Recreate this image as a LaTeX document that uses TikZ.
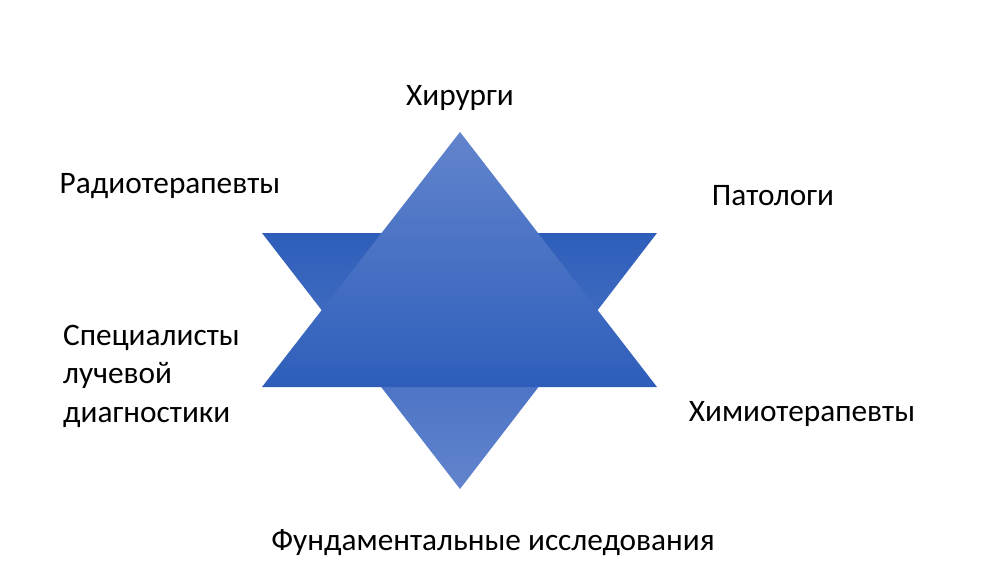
\documentclass[tikz,border=0pt]{standalone}
\usepackage{fontspec}
\setmainfont{Carlito}
\begin{document}
\begin{tikzpicture}[x=1pt,y=-1pt,
  lbl/.style={font=\fontsize{31.3}{38.5}\selectfont, inner sep=0pt, text=black}]
\useasboundingbox[fill=white] (0,0) rectangle (999,583);
% down triangle
\path[top color={rgb,255:red,46;green,94;blue,186}, bottom color={rgb,255:red,98;green,132;blue,205}]
  (262,233) -- (657,233) -- (460,489) -- cycle;
% up triangle
\path[top color={rgb,255:red,98;green,132;blue,205}, bottom color={rgb,255:red,46;green,94;blue,186}]
  (460,132) -- (657,387) -- (262,387) -- cycle;
\node[lbl] (sur) at (460,98) {Хирурги};
\node[lbl] (rad) at (170,186) {Радиотерапевты};
\node[lbl] (pat) at (773,196) {Патологи};
\node[lbl, anchor=west, align=left] (diag) at (63,376) {Специалисты\\лучевой\\диагностики};
\node[lbl] (chem) at (802,414) {Химиотерапевты};
\node[lbl] (fund) at (493,543) {Фундаментальные исследования};
\end{tikzpicture}
\end{document}
